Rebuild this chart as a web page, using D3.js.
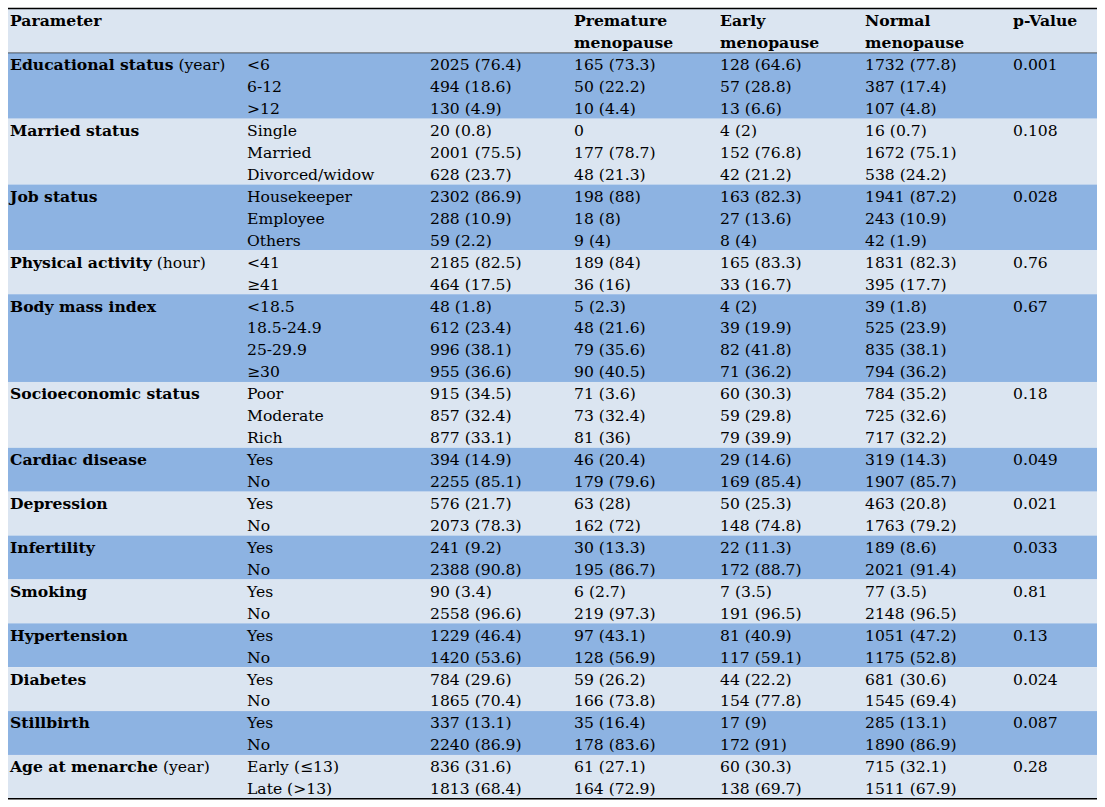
<!DOCTYPE html>
<html>
<head>
<meta charset="utf-8">
<script src="https://cdn.jsdelivr.net/npm/d3@7"></script>
<style>
  html, body { margin: 0; padding: 0; background: #fff; }
  svg text { font-family: "DejaVu Serif", serif; font-size: 15.6px; fill: #000; }
  svg text.bold { font-weight: bold; }
</style>
</head>
<body>
<svg id="chart" width="1105" height="807"></svg>
<script>
// --- table data ---
const headers = ['Parameter', '', '', 'Premature\nmenopause', 'Early\nmenopause', 'Normal\nmenopause', 'p-Value'];

const paramNames = ['Educational status', 'Married status', 'Job status', 'Physical activity',
  'Body mass index', 'Socioeconomic status', 'Cardiac disease', 'Depression', 'Infertility',
  'Smoking', 'Hypertension', 'Diabetes', 'Stillbirth', 'Age at menarche'];
const paramUnits = ['(year)', '', '', '(hour)', '', '', '', '', '', '', '', '', '', '(year)'];

const levels = [
  ['<6', '6-12', '>12'],
  ['Single', 'Married', 'Divorced/widow'],
  ['Housekeeper', 'Employee', 'Others'],
  ['<41', '≥41'],
  ['<18.5', '18.5-24.9', '25-29.9', '≥30'],
  ['Poor', 'Moderate', 'Rich'],
  ['Yes', 'No'], ['Yes', 'No'], ['Yes', 'No'], ['Yes', 'No'],
  ['Yes', 'No'], ['Yes', 'No'], ['Yes', 'No'],
  ['Early (≤13)', 'Late (>13)']
];

const totalCol = [
  ['2025 (76.4)', '494 (18.6)', '130 (4.9)'],
  ['20 (0.8)', '2001 (75.5)', '628 (23.7)'],
  ['2302 (86.9)', '288 (10.9)', '59 (2.2)'],
  ['2185 (82.5)', '464 (17.5)'],
  ['48 (1.8)', '612 (23.4)', '996 (38.1)', '955 (36.6)'],
  ['915 (34.5)', '857 (32.4)', '877 (33.1)'],
  ['394 (14.9)', '2255 (85.1)'],
  ['576 (21.7)', '2073 (78.3)'],
  ['241 (9.2)', '2388 (90.8)'],
  ['90 (3.4)', '2558 (96.6)'],
  ['1229 (46.4)', '1420 (53.6)'],
  ['784 (29.6)', '1865 (70.4)'],
  ['337 (13.1)', '2240 (86.9)'],
  ['836 (31.6)', '1813 (68.4)']
];

const prematureCol = [
  ['165 (73.3)', '50 (22.2)', '10 (4.4)'],
  ['0', '177 (78.7)', '48 (21.3)'],
  ['198 (88)', '18 (8)', '9 (4)'],
  ['189 (84)', '36 (16)'],
  ['5 (2.3)', '48 (21.6)', '79 (35.6)', '90 (40.5)'],
  ['71 (3.6)', '73 (32.4)', '81 (36)'],
  ['46 (20.4)', '179 (79.6)'],
  ['63 (28)', '162 (72)'],
  ['30 (13.3)', '195 (86.7)'],
  ['6 (2.7)', '219 (97.3)'],
  ['97 (43.1)', '128 (56.9)'],
  ['59 (26.2)', '166 (73.8)'],
  ['35 (16.4)', '178 (83.6)'],
  ['61 (27.1)', '164 (72.9)']
];

const earlyCol = [
  ['128 (64.6)', '57 (28.8)', '13 (6.6)'],
  ['4 (2)', '152 (76.8)', '42 (21.2)'],
  ['163 (82.3)', '27 (13.6)', '8 (4)'],
  ['165 (83.3)', '33 (16.7)'],
  ['4 (2)', '39 (19.9)', '82 (41.8)', '71 (36.2)'],
  ['60 (30.3)', '59 (29.8)', '79 (39.9)'],
  ['29 (14.6)', '169 (85.4)'],
  ['50 (25.3)', '148 (74.8)'],
  ['22 (11.3)', '172 (88.7)'],
  ['7 (3.5)', '191 (96.5)'],
  ['81 (40.9)', '117 (59.1)'],
  ['44 (22.2)', '154 (77.8)'],
  ['17 (9)', '172 (91)'],
  ['60 (30.3)', '138 (69.7)']
];

const normalCol = [
  ['1732 (77.8)', '387 (17.4)', '107 (4.8)'],
  ['16 (0.7)', '1672 (75.1)', '538 (24.2)'],
  ['1941 (87.2)', '243 (10.9)', '42 (1.9)'],
  ['1831 (82.3)', '395 (17.7)'],
  ['39 (1.8)', '525 (23.9)', '835 (38.1)', '794 (36.2)'],
  ['784 (35.2)', '725 (32.6)', '717 (32.2)'],
  ['319 (14.3)', '1907 (85.7)'],
  ['463 (20.8)', '1763 (79.2)'],
  ['189 (8.6)', '2021 (91.4)'],
  ['77 (3.5)', '2148 (96.5)'],
  ['1051 (47.2)', '1175 (52.8)'],
  ['681 (30.6)', '1545 (69.4)'],
  ['285 (13.1)', '1890 (86.9)'],
  ['715 (32.1)', '1511 (67.9)']
];

const pValues = ['0.001', '0.108', '0.028', '0.76', '0.67', '0.18', '0.049', '0.021',
  '0.033', '0.81', '0.13', '0.024', '0.087', '0.28'];

// --- layout ---
const LEFT = 8, RIGHT = 1097, TOP = 9, HEADER_LINES = 2;
const LINE_H = 21.94;
const BASE = 17.3;           // baseline offset inside a line
const COLS = ['param', 'level', 'total', 'premature', 'early', 'normal', 'p'];
const COL_X = [10, 247, 430, 574, 720, 865, 1013];
const LIGHT = '#dbe5f1', DARK = '#8db3e2';

const svg = d3.select('#chart');
const x = d3.scaleOrdinal().domain(COLS).range(COL_X);

// build groups with starting line index
let line = 0;
const groups = paramNames.map((name, i) => {
  const g = {
    name, unit: paramUnits[i], levels: levels[i], total: totalCol[i],
    premature: prematureCol[i], early: earlyCol[i], normal: normalCol[i],
    p: pValues[i], start: line, n: levels[i].length, idx: i
  };
  line += g.n;
  return g;
});
const totalLines = line;

// y scale maps line index → pixel
const y = d3.scaleLinear()
  .domain([0, HEADER_LINES + totalLines])
  .range([TOP, TOP + (HEADER_LINES + totalLines) * LINE_H]);

// header band
svg.append('rect')
  .attr('x', LEFT).attr('y', y(0))
  .attr('width', RIGHT - LEFT).attr('height', y(HEADER_LINES) - y(0))
  .attr('fill', LIGHT);

// group bands
svg.selectAll('rect.band')
  .data(groups)
  .join('rect')
  .attr('class', 'band')
  .attr('x', LEFT)
  .attr('y', d => y(HEADER_LINES + d.start))
  .attr('width', RIGHT - LEFT)
  .attr('height', d => y(HEADER_LINES + d.start + d.n) - y(HEADER_LINES + d.start))
  .attr('fill', d => d.idx % 2 === 0 ? DARK : LIGHT);

// header text
headers.forEach((h, ci) => {
  if (!h) return;
  const t = svg.append('text').attr('class', 'bold').attr('x', x(COLS[ci]));
  h.split('\n').forEach((part, li) => {
    t.append('tspan').attr('x', x(COLS[ci])).attr('y', y(li) + BASE).text(part);
  });
});

// parameter names
const pt = svg.selectAll('text.param')
  .data(groups)
  .join('text')
  .attr('class', 'param')
  .attr('x', x('param'))
  .attr('y', d => y(HEADER_LINES + d.start) + BASE);
pt.append('tspan').attr('font-weight', 'bold').text(d => d.name);
pt.append('tspan').text(d => d.unit ? ' ' + d.unit : '');

// per-level cells
const cells = [];
groups.forEach(g => {
  g.levels.forEach((lv, k) => {
    const ln = HEADER_LINES + g.start + k;
    cells.push({ col: 'level', ln, text: lv });
    cells.push({ col: 'total', ln, text: g.total[k] });
    cells.push({ col: 'premature', ln, text: g.premature[k] });
    cells.push({ col: 'early', ln, text: g.early[k] });
    cells.push({ col: 'normal', ln, text: g.normal[k] });
  });
  cells.push({ col: 'p', ln: HEADER_LINES + g.start, text: g.p });
});

svg.selectAll('text.cell')
  .data(cells)
  .join('text')
  .attr('class', 'cell')
  .attr('x', d => x(d.col))
  .attr('y', d => y(d.ln) + BASE)
  .text(d => d.text);

// rules
svg.append('line')
  .attr('x1', LEFT).attr('x2', RIGHT).attr('y1', y(0) - 0.5).attr('y2', y(0) - 0.5)
  .attr('stroke', '#000').attr('stroke-width', 1.5);
svg.append('line')
  .attr('x1', LEFT).attr('x2', RIGHT).attr('y1', y(HEADER_LINES)).attr('y2', y(HEADER_LINES))
  .attr('stroke', '#000').attr('stroke-width', 0.6);
svg.append('line')
  .attr('x1', LEFT).attr('x2', RIGHT)
  .attr('y1', y(HEADER_LINES + totalLines)).attr('y2', y(HEADER_LINES + totalLines))
  .attr('stroke', '#000').attr('stroke-width', 1.5);
</script>
</body>
</html>
